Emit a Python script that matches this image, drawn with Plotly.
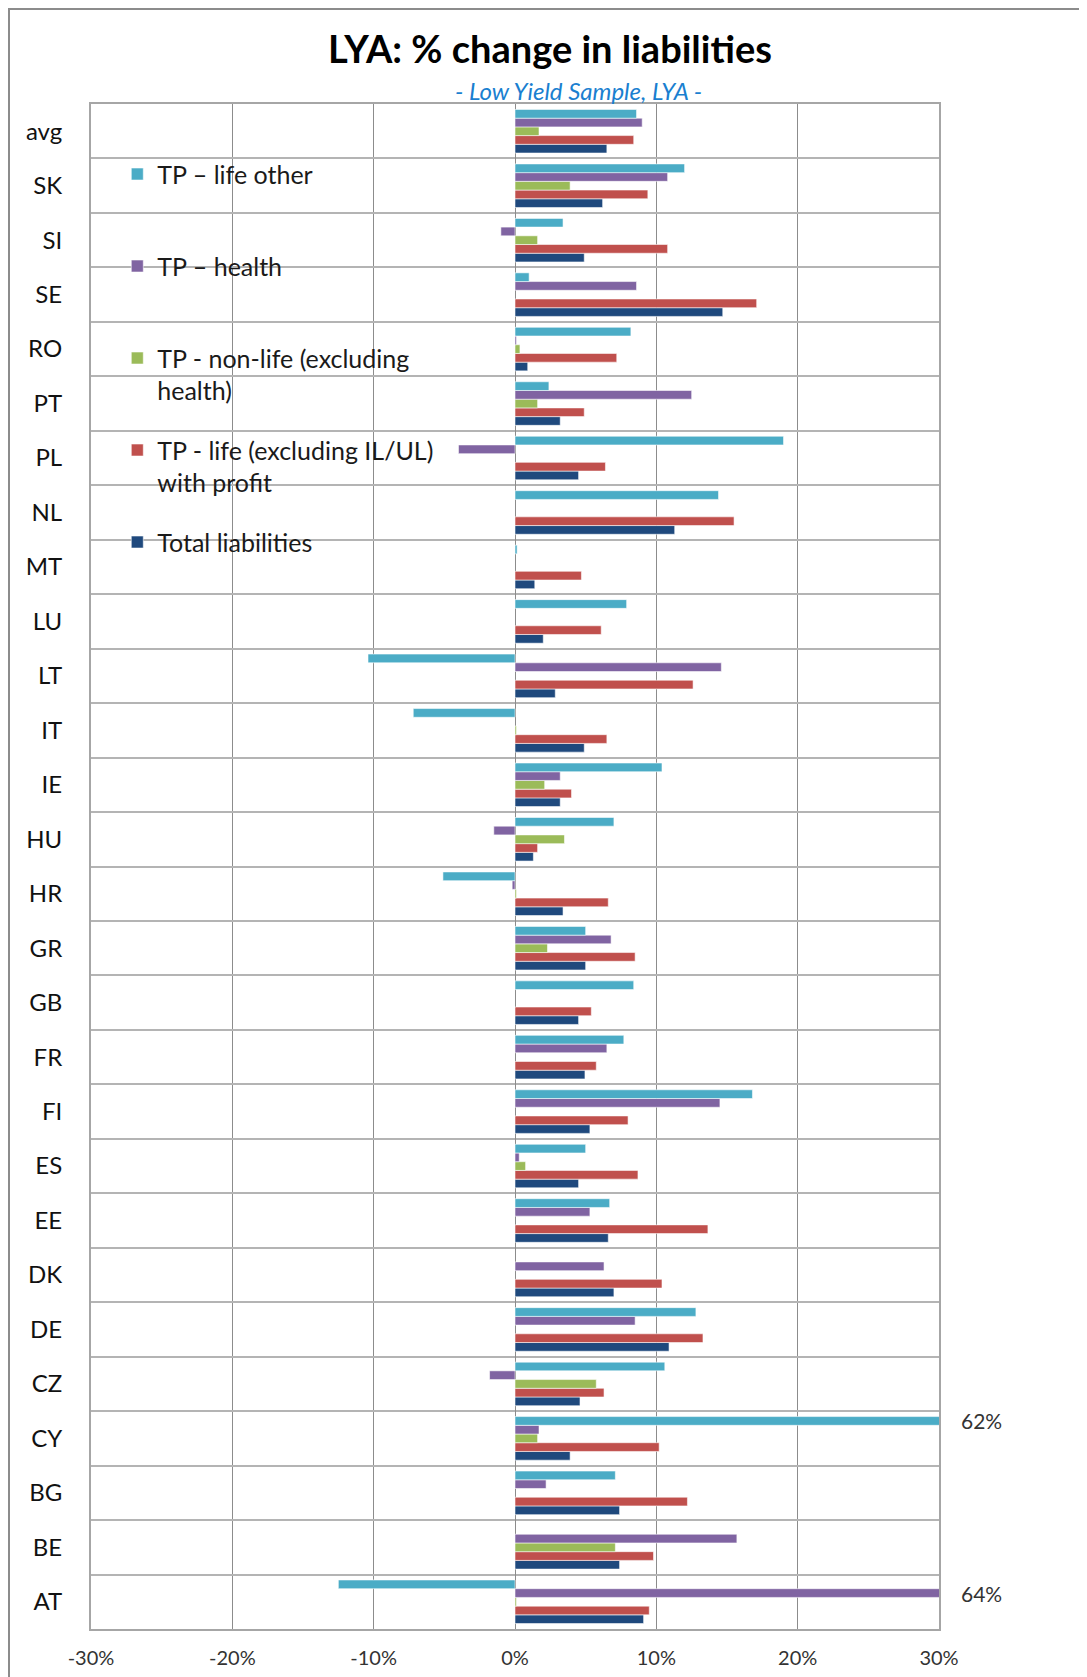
import plotly.graph_objects as go

# ---------------- data (top-to-bottom order as in the chart) ----------------
countries = ['avg', 'SK', 'SI', 'SE', 'RO', 'PT', 'PL', 'NL', 'MT', 'LU', 'LT', 'IT', 'IE', 'HU',
             'HR', 'GR', 'GB', 'FR', 'FI', 'ES', 'EE', 'DK', 'DE', 'CZ', 'CY', 'BG', 'BE', 'AT']

tp_life_other = [8.6, 12.0, 3.4, 1.0, 8.2, 2.4, 19.0, 14.4, 0.15, 7.9, -10.4, -7.2, 10.4, 7.0,
                 -5.1, 5.0, 8.4, 7.7, 16.8, 5.0, 6.7, None, 12.8, 10.6, 62.0, 7.1, None, -12.5]
tp_health = [9.0, 10.8, -1.0, 8.6, 0.1, 12.5, -4.0, None, None, None, 14.6, None, 3.2, -1.5,
             -0.2, 6.8, None, 6.5, 14.5, 0.3, 5.3, 6.3, 8.5, -1.8, 1.7, 2.2, 15.7, 64.0]
tp_non_life = [1.7, 3.9, 1.6, None, 0.35, 1.6, None, None, None, None, None, 0.1, 2.1, 3.5,
               0.1, 2.3, None, None, None, 0.75, None, None, None, 5.75, 1.6, None, 7.1, 0.1]
tp_life_profit = [8.4, 9.4, 10.8, 17.1, 7.2, 4.9, 6.4, 15.5, 4.7, 6.1, 12.6, 6.5, 4.0, 1.6,
                  6.6, 8.5, 5.4, 5.75, 8.0, 8.7, 13.65, 10.4, 13.3, 6.3, 10.2, 12.2, 9.8, 9.5]
total_liabilities = [6.5, 6.2, 4.9, 14.7, 0.9, 3.2, 4.5, 11.3, 1.4, 2.0, 2.85, 4.9, 3.2, 1.3,
                     3.4, 5.0, 4.5, 4.95, 5.3, 4.5, 6.6, 7.0, 10.9, 4.6, 3.9, 7.4, 7.4, 9.1]

series_names = ['TP \u2013 life other<br> ', 'TP \u2013 health<br> ',
                'TP - non-life (excluding<br>health)',
                'TP - life (excluding IL/UL)<br>with profit', 'Total liabilities<br> ']
series_values = [tp_life_other, tp_health, tp_non_life, tp_life_profit, total_liabilities]
series_colors = ['#4BACC6', '#8064A2', '#9BBB59', '#C0504D', '#1F497D']

x_tick_vals = [-30, -20, -10, 0, 10, 20, 30]
x_tick_text = ['-30%', '-20%', '-10%', '0%', '10%', '20%', '30%']
x_range = [-30, 30]

title_text = 'LYA: % change in liabilities'
subtitle_text = '- Low Yield Sample, LYA -'

FONT = 'Lato'

# ---------------- figure ----------------
fig = go.Figure()
y_order = list(reversed(countries))  # first category is drawn at the bottom

# add in reverse so that "Total liabilities" is the lowest bar of each group
for k in reversed(range(len(series_names))):
    fig.add_trace(go.Bar(
        y=countries, x=series_values[k], orientation='h',
        name=series_names[k], legendgroup=f'g{k}', legendrank=k + 1,
        marker=dict(color=series_colors[k], line=dict(color='rgba(255,255,255,0.7)', width=0.8)),
        cliponaxis=True,
    ))

# labels for bars exceeding the axis range
n_series = len(series_names)
for k, vals in enumerate(series_values):
    for c, v in zip(countries, vals):
        if v is not None and v > x_range[1]:
            pos_in_group = (n_series - 1 - k)  # 0 = bottom bar
            yidx = y_order.index(c) + (pos_in_group - (n_series - 1) / 2) * 0.8 / n_series
            fig.add_annotation(x=1, xref='paper', y=yidx, yref='y', xanchor='left', xshift=20,
                               text=f'{v:.0f}%', showarrow=False,
                               font=dict(family=FONT, size=21, color='#333333'))

fig.add_annotation(x=0.575, xref='paper', y=1.009, yref='paper', text=subtitle_text,
                   showarrow=False, xanchor='center', yanchor='middle',
                   font=dict(family=FONT, size=24, color='#1a7fd0', style='italic'))

# outer chart border
fig.add_shape(type='rect', xref='paper', yref='paper', x0=-0.0967, x1=1.4, y0=-0.2, y1=1.0623,
              line=dict(color='#8c8c8c', width=2), layer='below')

fig.update_layout(
    width=1079, height=1669,
    margin=dict(l=83, r=148, t=96, b=48, autoexpand=False),
    paper_bgcolor='white', plot_bgcolor='white',
    barmode='group', bargap=0.2, bargroupgap=0,
    title=dict(text=title_text, x=0.5023, xref='container', xanchor='center',
               y=1 - 42 / 1669, yref='container', yanchor='middle',
               font=dict(family=FONT, size=38, color='black', weight='bold')),
    font=dict(family=FONT, color='#222222'),
    legend=dict(x=0.031, y=0.969, xanchor='left', yanchor='top',
                traceorder='grouped', tracegroupgap=24, valign='top',
                bgcolor='rgba(0,0,0,0)', font=dict(family=FONT, size=25, color='#1a1a1a')),
    xaxis=dict(range=x_range, tickvals=x_tick_vals, ticktext=x_tick_text,
               showgrid=True, gridcolor='#8c8c8c', gridwidth=1.3,
               zeroline=True, zerolinecolor='#8c8c8c', zerolinewidth=1.3,
               showline=True, linecolor='#a6a6a6', linewidth=2, mirror=True,
               ticks='', ticklabelstandoff=10, automargin=False,
               tickfont=dict(family=FONT, size=20, color='#333333')),
    yaxis=dict(type='category', categoryorder='array', categoryarray=y_order,
               tickson='boundaries', showgrid=True, gridcolor='#b4b4b4', gridwidth=2,
               showline=True, linecolor='#a6a6a6', linewidth=2, mirror=True,
               ticks='', ticklabelstandoff=22, automargin=False,
               tickfont=dict(family=FONT, size=24, color='#111111')),
)

fig.write_html('out.html')
